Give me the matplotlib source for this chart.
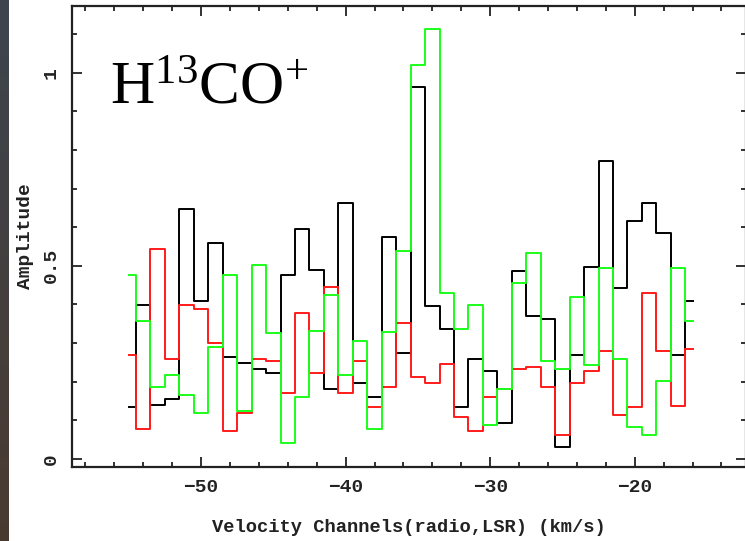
import numpy as np
import matplotlib
matplotlib.use("Agg")
import matplotlib.pyplot as plt

# velocity channels (km/s), 1 km/s wide
velocity = np.arange(-55, -15, 1)

# black spectrum
amp_black = [0.134, 0.399, 0.139, 0.155, 0.647, 0.409, 0.560, 0.265, 0.248, 0.233,
             0.223, 0.476, 0.595, 0.488, 0.180, 0.662, 0.198, 0.160, 0.574, 0.274,
             0.964, 0.397, 0.337, 0.134, 0.259, 0.228, 0.092, 0.487, 0.371, 0.362,
             0.032, 0.269, 0.498, 0.771, 0.442, 0.617, 0.664, 0.586, 0.269, 0.409]

# red spectrum
amp_red = [0.270, 0.078, 0.544, 0.259, 0.399, 0.388, 0.300, 0.073, 0.120, 0.259,
           0.254, 0.172, 0.377, 0.223, 0.444, 0.170, 0.254, 0.134, 0.187, 0.353,
           0.213, 0.198, 0.245, 0.108, 0.073, 0.160, 0.180, 0.232, 0.239, 0.187,
           0.062, 0.196, 0.229, 0.280, 0.114, 0.134, 0.429, 0.280, 0.138, 0.285]

# green spectrum
amp_green = [0.476, 0.357, 0.186, 0.217, 0.166, 0.120, 0.289, 0.476, 0.124, 0.501,
             0.325, 0.041, 0.160, 0.331, 0.425, 0.217, 0.305, 0.078, 0.330, 0.538,
             1.020, 1.113, 0.429, 0.337, 0.399, 0.088, 0.180, 0.455, 0.532, 0.254,
             0.233, 0.420, 0.243, 0.494, 0.258, 0.084, 0.062, 0.203, 0.494, 0.357]

x_ticks = [-50, -40, -30, -20]
y_ticks = [0, 0.5, 1]
y_tick_labels = ["0", "0.5", "1"]

plt.rcParams["mathtext.fontset"] = "custom"
plt.rcParams["mathtext.rm"] = "Liberation Serif"
plt.rcParams["mathtext.it"] = "Liberation Serif:italic"

fig = plt.figure(figsize=(7.45, 5.41), dpi=100)
fig.patch.set_facecolor("white")

# dark strip of the slide background on the far left
strip = fig.add_axes([0, 0, 0.011, 1])
grad = np.linspace(0, 1, 256).reshape(-1, 1)
top_col = np.array([0.24, 0.27, 0.31])
bot_col = np.array([0.29, 0.23, 0.19])
img = top_col[None, None, :] * (1 - grad[:, :, None]) + bot_col[None, None, :] * grad[:, :, None]
strip.imshow(img, aspect="auto")
strip.axis("off")

ax = fig.add_axes([72 / 745, 1 - 467 / 541, 674 / 745, 461 / 541])

ax.step(velocity, amp_black, where="mid", color="black", lw=1.4)
ax.step(velocity, amp_red, where="mid", color="#ff1a1a", lw=1.4)
ax.step(velocity, amp_green, where="mid", color="#1aff1a", lw=1.4)

ax.set_xlim(-58.93, -12.3)
ax.set_ylim(-0.0207, 1.1727)

ax.set_xticks(x_ticks)
ax.set_xticklabels([f"\u2212{abs(t)}" for t in x_ticks])
ax.set_xticks(np.arange(-58, -12, 2), minor=True)
ax.set_yticks(y_ticks)
ax.set_yticklabels(y_tick_labels)
ax.set_yticks(np.arange(0, 1.2, 0.1), minor=True)

ax.tick_params(which="both", direction="in", top=True, right=True, width=1.3, color="#222222")
ax.tick_params(which="major", length=7.5)
ax.tick_params(which="minor", length=3.6)
ax.tick_params(axis="x", pad=9)
ax.tick_params(axis="y", pad=9, labelrotation=90)
for lab in ax.get_xticklabels() + ax.get_yticklabels():
    lab.set_fontfamily("Liberation Mono")
    lab.set_fontweight("bold")
    lab.set_fontsize(14)
    lab.set_color("#222222")
for lab in ax.get_yticklabels():
    lab.set_va("center")

for sp in ax.spines.values():
    sp.set_linewidth(1.6)
    sp.set_color("#222222")

ax.set_xlabel("Velocity Channels(radio,LSR) (km/s)", fontfamily="Liberation Mono",
              fontsize=13.5, fontweight="bold", color="#222222", labelpad=16)
ax.set_ylabel("Amplitude", fontfamily="Liberation Mono", fontsize=14,
              fontweight="bold", color="#222222", labelpad=6)

fig.text(110 / 745, 1 - 103 / 541, r"$\mathrm{H^{13}CO^{+}}$", fontsize=44,
         va="baseline", ha="left", color="black")

fig.savefig("out.png", dpi=100)
